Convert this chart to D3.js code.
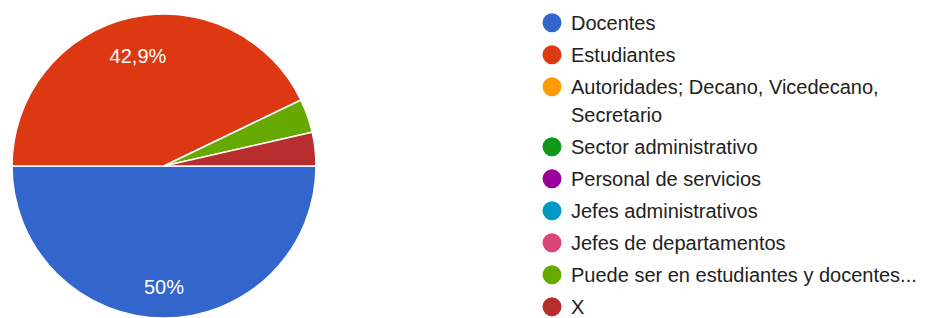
<!DOCTYPE html>
<html>
<head>
<meta charset="utf-8">
<script src="https://cdn.jsdelivr.net/npm/d3@7"></script>
<style>
    html, body { margin: 0; padding: 0; background: #fff; }
    svg { display: block; font-family: Arial, "Liberation Sans", sans-serif; }
</style>
</head>
<body>
<div id="chart"></div>
<script>
const categories = [
    'Docentes',
    'Estudiantes',
    'Autoridades; Decano, Vicedecano, Secretario',
    'Sector administrativo',
    'Personal de servicios',
    'Jefes administrativos',
    'Jefes de departamentos',
    'Puede ser en estudiantes y docentes...',
    'X'
];
const counts = [14, 12, 0, 0, 0, 0, 0, 1, 1];
const colors = ['#3366cc', '#dc3912', '#ff9900', '#109618', '#990099',
                '#0099c6', '#dd4477', '#66aa00', '#b82e2e'];
// la leyenda parte la tercera entrada en dos líneas
const legendLines = [
    ['Docentes'],
    ['Estudiantes'],
    ['Autoridades; Decano, Vicedecano,', 'Secretario'],
    ['Sector administrativo'],
    ['Personal de servicios'],
    ['Jefes administrativos'],
    ['Jefes de departamentos'],
    ['Puede ser en estudiantes y docentes...'],
    ['X']
];

const width = 930, height = 318;
const cx = 164, cy = 166, radius = 152;

const svg = d3.select('#chart').append('svg')
    .attr('width', width)
    .attr('height', height);

const data = categories.map((c, i) => ({ name: c, value: counts[i], color: colors[i] }));
const total = d3.sum(counts);

// empieza a las 3 en punto y gira en sentido horario
const pie = d3.pie()
    .sort(null)
    .value(d => d.value)
    .startAngle(Math.PI / 2)
    .endAngle(Math.PI / 2 + 2 * Math.PI);

const arcs = pie(data).filter(d => d.data.value > 0);
const arc = d3.arc().innerRadius(0).outerRadius(radius);
const labelArc = d3.arc().innerRadius(radius * 0.77).outerRadius(radius * 0.77);

const g = svg.append('g').attr('transform', `translate(${cx},${cy})`);

g.selectAll('path')
    .data(arcs)
    .enter().append('path')
    .attr('d', arc)
    .attr('fill', d => d.data.color)
    .attr('stroke', '#fff')
    .attr('stroke-width', 1.5);

// solo las porciones grandes llevan porcentaje
const fmt = v => {
    const p = Math.round(v / total * 1000) / 10;
    return String(p).replace('.', ',') + '%';
};
g.selectAll('text.pct')
    .data(arcs.filter(d => d.data.value / total > 0.1))
    .enter().append('text')
    .attr('class', 'pct')
    .attr('transform', d => `translate(${labelArc.centroid(d)})`)
    .attr('text-anchor', 'middle')
    .attr('dy', '0.55em')
    .attr('fill', '#fff')
    .style('font-size', '20px')
    .text(d => fmt(d.data.value));

// leyenda
const legendX = 552, textX = 571, firstY = 22.7, step = 32, wrapStep = 28;
let y = firstY;
const legend = svg.append('g').attr('class', 'legend');
legendLines.forEach((lines, i) => {
    const item = legend.append('g');
    item.append('circle')
        .attr('cx', legendX)
        .attr('cy', y)
        .attr('r', 9.5)
        .attr('fill', colors[i]);
    lines.forEach((line, j) => {
        item.append('text')
            .attr('x', textX)
            .attr('y', y + j * wrapStep)
            .attr('dy', '0.35em')
            .attr('fill', '#222')
            .style('font-size', '20px')
            .text(line);
    });
    y += step + (lines.length - 1) * wrapStep;
});
</script>
</body>
</html>
